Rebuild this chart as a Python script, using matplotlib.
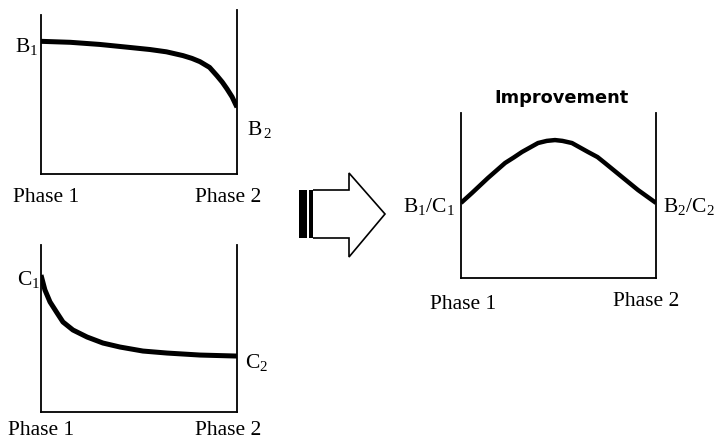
import matplotlib
matplotlib.use("Agg")
import matplotlib.pyplot as plt
from matplotlib.patches import Polygon, Rectangle

plt.rcParams['font.family'] = ['Liberation Serif', 'DejaVu Serif']
plt.rcParams['mathtext.fontset'] = 'custom'
plt.rcParams['mathtext.rm'] = 'Liberation Serif'
plt.rcParams['mathtext.it'] = 'Liberation Serif:italic'

# curves, x = progress from phase 1 to phase 2, y = relative level
b_x = [0, 0.15, 0.30, 0.45, 0.556, 0.64, 0.724, 0.77, 0.811, 0.86, 0.898, 0.925, 0.949, 0.975, 1.0]
b_y = [0.809, 0.803, 0.790, 0.772, 0.759, 0.745, 0.722, 0.705, 0.685, 0.65, 0.599, 0.56, 0.519, 0.47, 0.407]

c_x = [0, 0.020, 0.046, 0.082, 0.112, 0.163, 0.235, 0.316, 0.403, 0.520, 0.643, 0.811, 1.0]
c_y = [0.820, 0.731, 0.659, 0.593, 0.539, 0.491, 0.449, 0.413, 0.389, 0.365, 0.353, 0.341, 0.335]

bc_x = [0, 0.056, 0.138, 0.226, 0.27, 0.313, 0.395, 0.44, 0.482, 0.52, 0.569, 0.651, 0.70, 0.738, 0.826, 0.908, 1.0]
bc_y = [0.455, 0.515, 0.606, 0.697, 0.730, 0.764, 0.818, 0.831, 0.836, 0.831, 0.818, 0.764, 0.733, 0.697, 0.612, 0.533, 0.455]

W, H = 723, 441
fig = plt.figure(figsize=(W / 100, H / 100), dpi=100)


def px(x, y):
    return x / W, 1 - y / H


def panel(left, top, right, bottom, x, y, lw):
    ax = fig.add_axes([left / W, 1 - bottom / H, (right - left) / W, (bottom - top) / H])
    ax.plot(x, y, color='black', lw=lw, solid_capstyle='butt', solid_joinstyle='round')
    ax.set_xlim(0, 1)
    ax.set_ylim(0, 1)
    ax.spines['top'].set_visible(False)
    for s in ('left', 'right', 'bottom'):
        ax.spines[s].set_linewidth(1.3)
    ax.set_xticks([])
    ax.set_yticks([])
    ax.patch.set_alpha(0)
    return ax


ax1 = panel(41, 10, 237, 174, b_x, b_y, 3.6)
ax1.spines['left'].set_bounds(0, 0.97)
ax2 = panel(41, 245, 237, 412, c_x, c_y, 3.6)
ax3 = panel(461, 113, 656, 278, bc_x, bc_y, 3.2)

fs = 15.5


def label(x, y, s, ha='left'):
    fig.text(*px(x, y), s, fontsize=fs, ha=ha, va='baseline')


label(38, 52, r'$\mathrm{B}_1$', ha='right')
label(247, 135, r'$\mathrm{B}_{\,2}$')
label(13, 202, 'Phase 1')
label(195, 202, 'Phase 2')

label(40, 285, r'$\mathrm{C}_1$', ha='right')
label(245, 368, r'$\mathrm{C}_2$')
label(8, 435, 'Phase 1')
label(195, 435, 'Phase 2')

label(403, 212, r'$\mathrm{B}_1\mathrm{/C}_1$')
label(663, 212, r'$\mathrm{B}_2\mathrm{/C}_2$')
label(430, 309, 'Phase 1')
label(613, 306, 'Phase 2')

fig.text(*px(562, 103), 'Improvement', fontsize=12.8, fontweight='bold',
         family='DejaVu Sans', ha='center', va='baseline')

# block arrow between the panels
arrow = [(313, 190), (349, 190), (349, 173), (385, 214), (349, 257), (349, 238), (313, 238)]
fig.patches.append(Polygon([px(*p) for p in arrow], closed=False, fill=False,
                           edgecolor='black', lw=1.2, transform=fig.transFigure))
for x0, x1 in [(299, 307), (309, 313)]:
    fig.patches.append(Rectangle(px(x0, 238), (x1 - x0) / W, 48 / H,
                                 facecolor='black', edgecolor='none',
                                 transform=fig.transFigure))

fig.savefig('out.png', dpi=100)
